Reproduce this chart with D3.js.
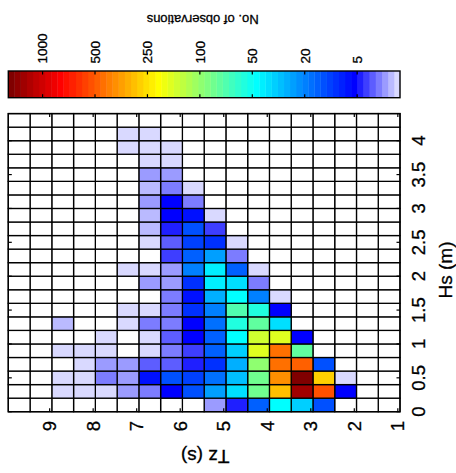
<!DOCTYPE html>
<html>
<head>
<meta charset="utf-8">
<script src="https://cdn.jsdelivr.net/npm/d3@7"></script>
<style>
  html, body { margin: 0; padding: 0; background: #fff; }
  svg { display: block; font-family: "Liberation Sans", Arial, sans-serif; }
  svg text { fill: #000; stroke: #000; stroke-width: 0.3px; }
</style>
</head>
<body>
<div id="chart"></div>
<script>
// Tz bin centres (s), left to right in the original = right to left here
const tzBins = [1.2, 1.7, 2.2, 2.7, 3.2, 3.7, 4.2, 4.7, 5.2, 5.7, 6.2, 6.7, 7.2, 7.7, 8.2, 8.7, 9.2, 9.7];
// Hs bin centres (m)
const hsBins = [0.1, 0.3, 0.5, 0.7, 0.9, 1.1, 1.3, 1.5, 1.7, 1.9, 2.1, 2.3, 2.5, 2.7, 2.9, 3.1, 3.3, 3.5, 3.7, 3.9, 4.1, 4.3];

// No. of observations, one row per Hs bin (bottom up), one column per Tz bin
const counts = [
  [0, 0, 0, 15, 37, 48, 16, 4.6, 1.8, 0, 0, 0, 0, 0, 0, 0, 0, 0],
  [0, 0, 6, 539, 1183, 315, 87, 42, 27, 15, 6, 2.5, 1.8, 0.5, 0.5, 0.5, 0, 0],
  [0, 0, 0.5, 286, 1300, 403, 87, 34, 18, 13, 15, 8, 1.8, 2.5, 0.5, 0.5, 0, 0],
  [0, 0, 0, 15, 490, 461, 100, 30, 11, 4.6, 3.2, 3.2, 1.8, 1.8, 0.5, 0, 0, 0],
  [0, 0, 0, 0, 81, 461, 184, 37, 16, 4, 2.5, 0.5, 0, 0.5, 0.5, 0.5, 0, 0],
  [0, 0, 0, 0, 6, 184, 170, 48, 16, 6, 3.2, 0.5, 0, 0.5, 0, 0, 0, 0],
  [0, 0, 0, 0, 0, 41, 81, 58, 18, 6, 2.5, 2.5, 0.5, 0, 0, 1, 0, 0],
  [0, 0, 0, 0, 0, 6, 58, 75, 20, 11, 2.5, 0.5, 0.5, 0, 0, 0, 0, 0],
  [0, 0, 0, 0, 0, 0.5, 20, 48, 30, 8, 2.5, 0, 0, 0, 0, 0, 0, 0],
  [0, 0, 0, 0, 0, 0, 2.5, 41, 44, 11, 1.8, 1.8, 0, 0, 0, 0, 0, 0],
  [0, 0, 0, 0, 0, 0, 0.5, 16, 44, 20, 1.8, 0.5, 0.5, 0, 0, 0, 0, 0],
  [0, 0, 0, 0, 0, 0, 0, 2.5, 27, 16, 4, 0, 0, 0, 0, 0, 0, 0],
  [0, 0, 0, 0, 0, 0, 0, 0.5, 11, 13, 3.2, 0.5, 0, 0, 0, 0, 0, 0],
  [0, 0, 0, 0, 0, 0, 0, 0, 4, 15, 4.6, 1, 0, 0, 0, 0, 0, 0],
  [0, 0, 0, 0, 0, 0, 0, 0, 0.5, 8, 6, 1, 0, 0, 0, 0, 0, 0],
  [0, 0, 0, 0, 0, 0, 0, 0, 0, 2.5, 6, 1.8, 0, 0, 0, 0, 0, 0],
  [0, 0, 0, 0, 0, 0, 0, 0, 0, 0.5, 2.5, 1, 0, 0, 0, 0, 0, 0],
  [0, 0, 0, 0, 0, 0, 0, 0, 0, 0, 1.8, 1.8, 0, 0, 0, 0, 0, 0],
  [0, 0, 0, 0, 0, 0, 0, 0, 0, 0, 0.5, 0.5, 0, 0, 0, 0, 0, 0],
  [0, 0, 0, 0, 0, 0, 0, 0, 0, 0, 0.5, 0.5, 0.5, 0, 0, 0, 0, 0],
  [0, 0, 0, 0, 0, 0, 0, 0, 0, 0, 0, 0.5, 0.5, 0, 0, 0, 0, 0],
  [0, 0, 0, 0, 0, 0, 0, 0, 0, 0, 0, 0, 0, 0, 0, 0, 0, 0]
];

const tzTicks = [1, 2, 3, 4, 5, 6, 7, 8, 9];
const hsTicks = [0, 0.5, 1, 1.5, 2, 2.5, 3, 3.5, 4];
const cbarTicks = [5, 20, 50, 100, 250, 500, 1000];
const cbarMax = 1330;

(function () {
    const w = 456, h = 473;
    const plot = { left: 8.3, right: 400, top: 113.6, bottom: 411.7 };
    const bar = { top: 71, bottom: 97.7 };

    const svg = d3.select("#chart")
        .append("svg")
        .attr("width", w)
        .attr("height", h);

    // figure is turned a quarter: Tz runs right-to-left, Hs bottom-to-top
    const xScale = d3.scaleLinear()
        .domain([0.95, 9.95])
        .range([plot.right, plot.left]);

    const yScale = d3.scaleLinear()
        .domain([0, 4.4])
        .range([plot.bottom, plot.top]);

    // 64-colour jet map with the dark blue end swapped for lavender
    const nColors = 64;
    const jet = d3.scaleLinear()
        .domain([0, 7, 23, 39, 55, 63])
        .range(["#d9d9ff", "#0000ff", "#00ffff", "#ffff00", "#ff0000", "#800000"])
        .interpolate(d3.interpolateRgb);

    // value -> position on the colour bar (in colour bands); ticks equally spaced
    const step = (58.4 - 7) / 6;
    const bandPos = d3.scaleLinear()
        .domain([0].concat(cbarTicks, [cbarMax]))
        .range([0].concat(cbarTicks.map((d, i) => 7 + i * step), [nColors]))
        .clamp(true);

    const colour = v => v > 0 ? jet(Math.min(nColors - 1, Math.floor(bandPos(v)))) : "#fff";

    // cells
    const cells = [];
    counts.forEach((row, r) => row.forEach((v, c) => cells.push({ tz: tzBins[c], hs: hsBins[r], v: v })));

    svg.append("g")
        .selectAll("rect")
        .data(cells)
        .enter()
        .append("rect")
        .attr("x", d => xScale(d.tz + 0.25))
        .attr("y", d => yScale(d.hs + 0.1))
        .attr("width", d => xScale(d.tz - 0.25) - xScale(d.tz + 0.25))
        .attr("height", d => yScale(d.hs - 0.1) - yScale(d.hs + 0.1))
        .attr("fill", d => colour(d.v))
        .attr("stroke", "#000")
        .attr("stroke-width", 1.3);

    // frame
    svg.append("rect")
        .attr("x", plot.left).attr("y", plot.top)
        .attr("width", plot.right - plot.left).attr("height", plot.bottom - plot.top)
        .attr("fill", "none").attr("stroke", "#000").attr("stroke-width", 1.4);

    // inward ticks
    const tl = 3.5;
    const ticks = svg.append("g").attr("stroke", "#000").attr("stroke-width", 1.2);
    tzTicks.forEach(t => {
        ticks.append("line").attr("x1", xScale(t)).attr("x2", xScale(t)).attr("y1", plot.top).attr("y2", plot.top + tl);
        ticks.append("line").attr("x1", xScale(t)).attr("x2", xScale(t)).attr("y1", plot.bottom).attr("y2", plot.bottom - tl);
    });
    hsTicks.forEach(t => {
        ticks.append("line").attr("y1", yScale(t)).attr("y2", yScale(t)).attr("x1", plot.left).attr("x2", plot.left + tl);
        ticks.append("line").attr("y1", yScale(t)).attr("y2", yScale(t)).attr("x1", plot.right).attr("x2", plot.right - tl);
    });

    // Tz tick labels (rotated, reading upward)
    svg.append("g")
        .selectAll("text")
        .data(tzTicks)
        .enter()
        .append("text")
        .attr("transform", d => `translate(${xScale(d)},421) rotate(-90)`)
        .attr("dy", "0.36em")
        .attr("text-anchor", "end")
        .attr("font-size", 18.5)
        .text(d => d);

    // Hs tick labels
    svg.append("g")
        .selectAll("text")
        .data(hsTicks)
        .enter()
        .append("text")
        .attr("transform", d => `translate(425,${yScale(d)}) rotate(-90)`)
        .attr("text-anchor", "middle")
        .attr("font-size", 18.5)
        .text(d => d);

    // axis titles
    svg.append("text")
        .attr("transform", "translate(452,270) rotate(-90)")
        .attr("text-anchor", "middle")
        .attr("font-size", 19)
        .text("Hs (m)");

    svg.append("text")
        .attr("transform", `translate(${(plot.left + plot.right) / 2 + 1},450) rotate(180)`)
        .attr("text-anchor", "middle")
        .attr("font-size", 19)
        .text("Tz (s)");

    // colour bar
    const cx = d3.scaleLinear().domain([0, nColors]).range([plot.right, plot.left]);

    svg.append("g")
        .selectAll("rect")
        .data(d3.range(nColors))
        .enter()
        .append("rect")
        .attr("x", d => cx(d + 1))
        .attr("y", bar.top)
        .attr("width", d => cx(d) - cx(d + 1) + 0.4)
        .attr("height", bar.bottom - bar.top)
        .attr("fill", d => jet(d));

    svg.append("rect")
        .attr("x", plot.left).attr("y", bar.top)
        .attr("width", plot.right - plot.left).attr("height", bar.bottom - bar.top)
        .attr("fill", "none").attr("stroke", "#000").attr("stroke-width", 1.4);

    const cticks = svg.append("g").attr("stroke", "#000").attr("stroke-width", 1.2);
    cbarTicks.forEach(t => {
        const x = cx(bandPos(t));
        cticks.append("line").attr("x1", x).attr("x2", x).attr("y1", bar.top).attr("y2", bar.top + 3.5);
        cticks.append("line").attr("x1", x).attr("x2", x).attr("y1", bar.bottom).attr("y2", bar.bottom - 3.5);
    });

    svg.append("g")
        .selectAll("text")
        .data(cbarTicks)
        .enter()
        .append("text")
        .attr("transform", d => `translate(${cx(bandPos(d))},63.5) rotate(-90)`)
        .attr("dy", "0.36em")
        .attr("text-anchor", "start")
        .attr("font-size", 13.5)
        .text(d => d);

    svg.append("text")
        .attr("transform", `translate(${(plot.left + plot.right) / 2 - 1.5},14.5) rotate(180)`)
        .attr("text-anchor", "middle")
        .attr("font-size", 13)
        .text("No. of observations");
})();
</script>
</body>
</html>
